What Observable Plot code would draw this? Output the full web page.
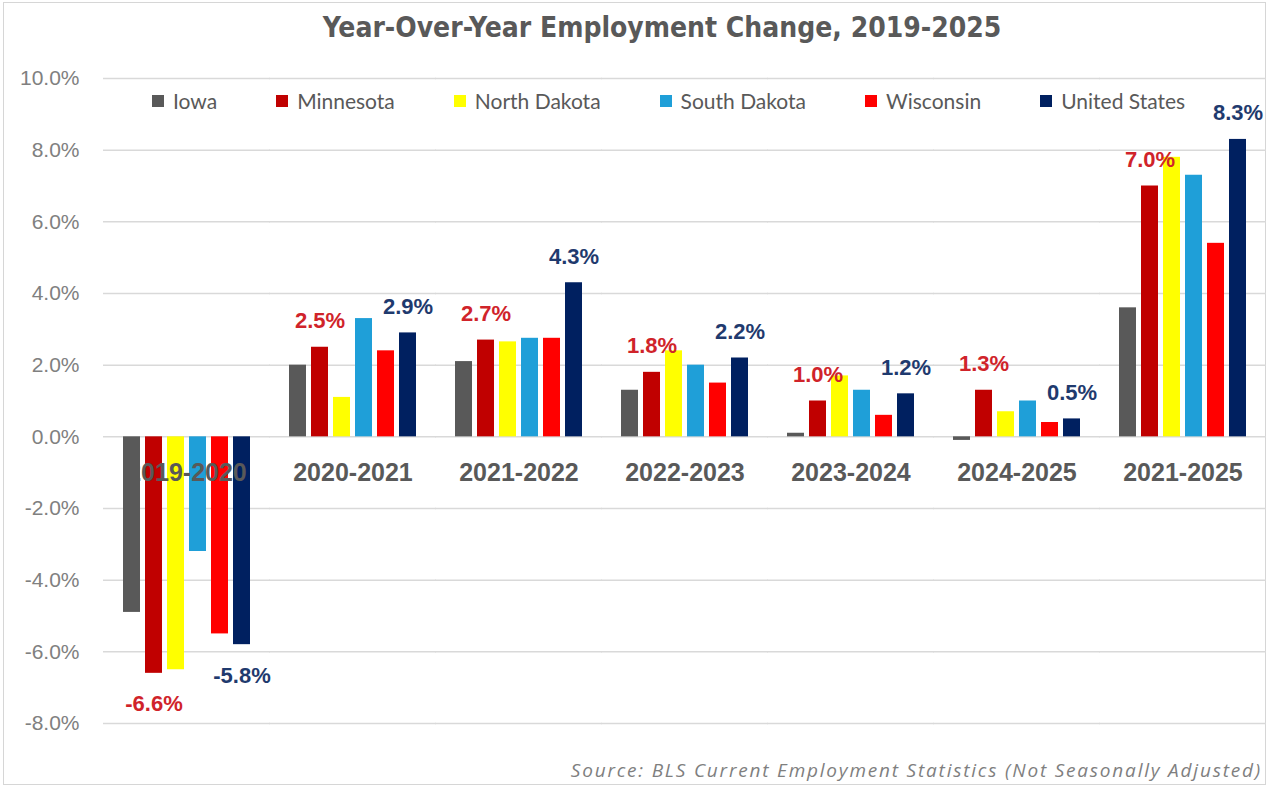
<!DOCTYPE html>
<html>
<head>
<meta charset="utf-8">
<script src="https://cdn.jsdelivr.net/npm/d3@7"></script>
<script src="https://cdn.jsdelivr.net/npm/@observablehq/plot@0.6"></script>
<style>
  html, body { margin: 0; padding: 0; background: #fff; }
  #frame { position: relative; width: 1272px; height: 790px; overflow: hidden; background: #fff; }
  #border { position: absolute; left: 3px; top: 2px; width: 1263px; height: 783px; border: 1.5px solid #d6d6d6; box-sizing: border-box; }
  #title { position: absolute; left: 52px; top: 12px; width: 1220px; text-align: center;
    font-family: "Liberation Sans Narrow", "DejaVu Sans Condensed", "Liberation Sans", sans-serif;
    font-weight: bold; font-size: 28px; color: #595959; line-height: 32px; }
  #chart { position: absolute; left: 0; top: 56px; }
  #legend { position: absolute; left: 152px; top: 88px; display: flex; gap: 59px; align-items: center;
    font-family: Lato, "Liberation Sans", sans-serif; font-size: 21px; color: #595959; line-height: 26px; }
  #legend .item { display: flex; align-items: center; }
  #legend .sw { width: 12px; height: 12px; margin-right: 9px; }
  #source { position: absolute; right: 10px; top: 757px; font-family: "Open Sans", Lato, sans-serif;
    font-style: italic; font-size: 19px; letter-spacing: 1.8px; color: #7f7f7f; }
</style>
</head>
<body>
<div id="frame">
  <div id="border"></div>
  <div id="title">Year-Over-Year Employment Change, 2019-2025</div>
  <div id="chart"></div>
  <div id="legend"></div>
  <div id="source">Source: BLS Current Employment Statistics (Not Seasonally Adjusted)</div>
</div>
<script>
const periods = ["2019-2020", "2020-2021", "2021-2022", "2022-2023", "2023-2024", "2024-2025", "2021-2025"];
const states = ["Iowa", "Minnesota", "North Dakota", "South Dakota", "Wisconsin", "United States"];
const stateColors = ["#595959", "#c00000", "#ffff00", "#1f9fd8", "#ff0000", "#002060"];

const iowa = [-4.9, 2.0, 2.1, 1.3, 0.1, -0.1, 3.6];
const minnesota = [-6.6, 2.5, 2.7, 1.8, 1.0, 1.3, 7.0];
const northDakota = [-6.5, 1.1, 2.65, 2.4, 1.7, 0.7, 7.8];
const southDakota = [-3.2, 3.3, 2.75, 2.0, 1.3, 1.0, 7.3];
const wisconsin = [-5.5, 2.4, 2.75, 1.5, 0.6, 0.4, 5.4];
const unitedStates = [-5.8, 2.9, 4.3, 2.2, 1.2, 0.5, 8.3];

const yTicks = [-8, -6, -4, -2, 0, 2, 4, 6, 8, 10];
const labelledStates = ["Minnesota", "United States"];
const labelColors = {"Minnesota": "#d0232a", "United States": "#1f3a6e"};

const series = [iowa, minnesota, northDakota, southDakota, wisconsin, unitedStates];
const rows = [];
periods.forEach((p, i) => states.forEach((s, j) => rows.push({period: p, state: s, value: series[j][i]})));
const labelled = rows.filter(d => labelledStates.includes(d.state));

const plot = Plot.plot({
  width: 1272,
  height: 700,
  marginLeft: 103,
  marginRight: 7,
  marginTop: 22,
  marginBottom: 33,
  style: {fontFamily: "'Liberation Sans', Arial, sans-serif", fontSize: "21px", color: "#808080", overflow: "visible"},
  fx: {domain: periods, axis: null, paddingInner: 0.235, paddingOuter: 0.1175},
  x: {domain: states, axis: null, paddingInner: 0.23, paddingOuter: 0},
  y: {domain: [-8, 10], axis: null},
  color: {domain: states, range: stateColors},
  marks: [
    Plot.ruleY(yTicks, {stroke: "#d9d9d9", strokeWidth: 1.5, insetLeft: -20, insetRight: -20}),
    Plot.axisY({ticks: yTicks, tickSize: 0, tickPadding: 44, tickFormat: d => d.toFixed(1) + "%", label: null, fontSize: 21, fill: "#808080"}),
    Plot.barY(rows, {fx: "period", x: "state", y: "value", fill: "state"}),
    Plot.text(periods, {fx: d => d, y: 0, text: d => d, dy: 36, fill: "#595959", fontSize: 25, fontWeight: "bold"}),
    Plot.text(labelled.filter(d => d.value >= 0), {fx: "period", x: "state", y: "value",
      text: d => d.value.toFixed(1) + "%", dy: -26, fontSize: 22, fontWeight: "bold",
      fill: d => labelColors[d.state]}),
    Plot.text(labelled.filter(d => d.value < 0), {fx: "period", x: "state", y: "value",
      text: d => d.value.toFixed(1) + "%", dy: 31, fontSize: 22, fontWeight: "bold",
      fill: d => labelColors[d.state]})
  ]
});
document.getElementById("chart").appendChild(plot);

const legend = document.getElementById("legend");
states.forEach((s, j) => {
  const item = document.createElement("div");
  item.className = "item";
  const sw = document.createElement("span");
  sw.className = "sw";
  sw.style.background = stateColors[j];
  const t = document.createElement("span");
  t.textContent = s;
  item.appendChild(sw);
  item.appendChild(t);
  legend.appendChild(item);
});
</script>
</body>
</html>
